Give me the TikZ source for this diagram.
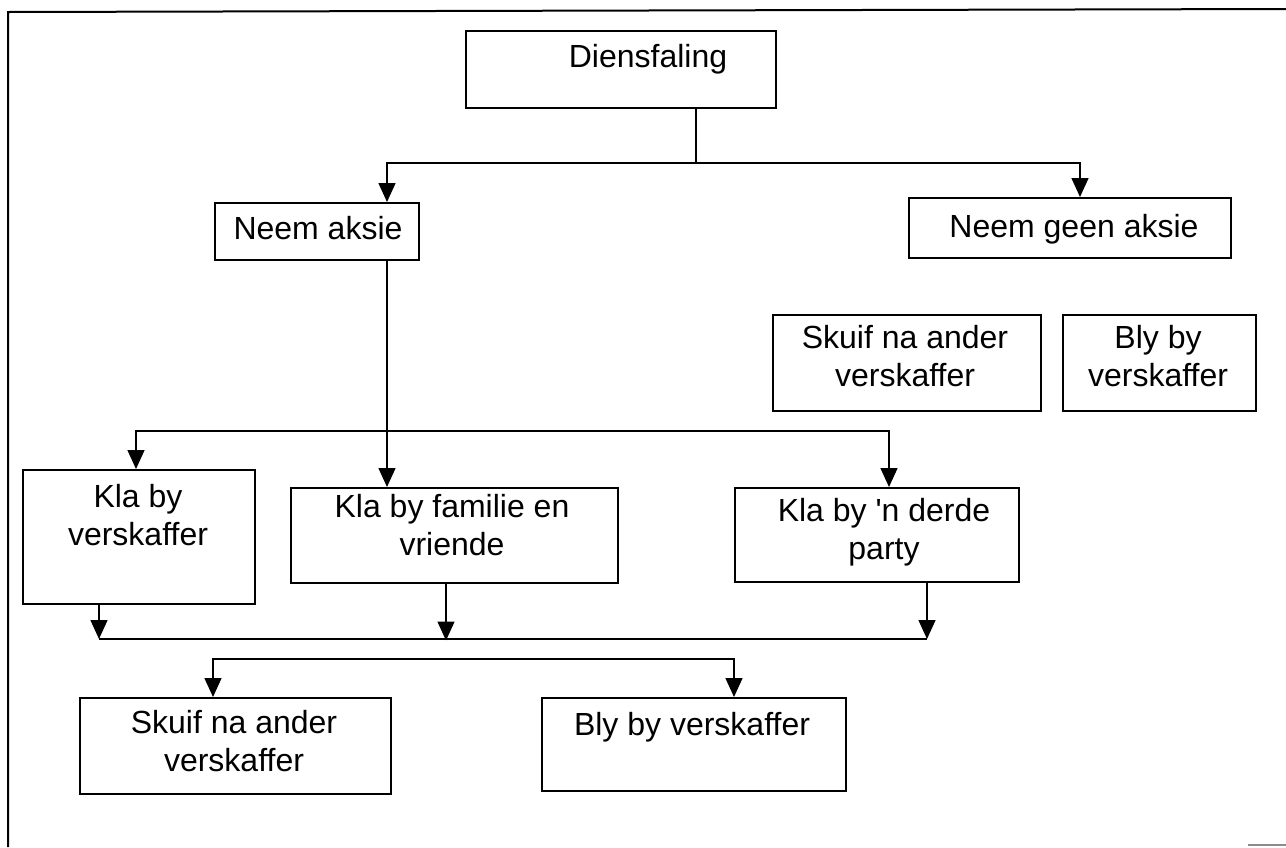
\documentclass[tikz,border=0pt]{standalone}
\usepackage{fontspec}
\setmainfont{Liberation Sans}
\usetikzlibrary{arrows.meta,calc}

\begin{document}
\begin{tikzpicture}[x=1pt,y=-1pt,
  line width=1.5pt,
  box/.style={draw, line width=1.5pt, inner sep=0pt, anchor=north west},
  lbl/.style={anchor=north, align=center, inner sep=0pt,
    font=\fontsize{32}{38}\selectfont},
  tip/.tip={Triangle[width=17pt,length=19pt]},
  arr/.style={-tip},
  link/.style={line width=1.5pt}]

\useasboundingbox (0,0) rectangle (1286,847);

% page frame (top and left edges)
\draw[line width=2pt] (8,847) -- (8,12) -- (1286,9);
\draw[line width=1.5pt, black!45] (1248,845) -- (1286,845);

% boxes
\node[box, minimum width=310pt, minimum height=77pt] (dien) at (465,30) {};
\node[box, minimum width=204pt, minimum height=57pt] (naksie) at (214,202) {};
\node[box, minimum width=322pt, minimum height=60pt] (ngeen) at (908,197) {};
\node[box, minimum width=268pt, minimum height=96pt] (rskuif) at (772,314) {};
\node[box, minimum width=193pt, minimum height=96pt] (rbly) at (1062,314) {};
\node[box, minimum width=232pt, minimum height=134pt] (kla1) at (22,469) {};
\node[box, minimum width=327pt, minimum height=95pt] (kla2) at (290,487) {};
\node[box, minimum width=284pt, minimum height=94pt] (kla3) at (734,487) {};
\node[box, minimum width=311pt, minimum height=96pt] (bskuif) at (79,697) {};
\node[box, minimum width=304pt, minimum height=93pt] (bbly) at (541,697) {};

% labels
\node[lbl] (dien-t)   at (648,44)  {Diensfaling};
\node[lbl] (naksie-t) at (318,216) {Neem aksie};
\node[lbl] (ngeen-t)  at (1074,214) {Neem geen aksie};
\node[lbl] (rskuif-t) at (905,325) {Skuif na ander\\verskaffer};
\node[lbl] (rbly-t)   at (1158,325) {Bly by\\verskaffer};
\node[lbl] (kla1-t)   at (138,484) {Kla by\\verskaffer};
\node[lbl] (kla2-t)   at (452,494) {Kla by familie en\\vriende};
\node[lbl] (kla3-t)   at (884,498) {Kla by \textquotesingle n derde\\party};
\node[lbl] (bskuif-t) at (234,710) {Skuif na ander\\verskaffer};
\node[lbl] (bbly-t)   at (692,712) {Bly by verskaffer};

% junction points of the connectors
\coordinate (j1) at (696,163);
\coordinate (j2) at (387,431);
\coordinate (j3) at (99,639);
\coordinate (j4) at (927,639);

% Diensfaling -> the two choices
\draw[link] (dien.south -| j1) -- (j1);
\draw[arr] (j1) -| ($(naksie.north west)+(173,0)$);
\draw[arr] (j1) -| ($(ngeen.north west)+(172,0)$);

% Neem aksie -> the three ways to complain
\draw[arr] (naksie.south -| j2) -- (kla2.north -| j2);
\draw[arr] (j2) -| ($(kla1.north west)+(114,0)$);
\draw[arr] (j2) -| ($(kla3.north west)+(155,0)$);

% complaints gather on one line
\draw[link] (j3) -- (j4);
\draw[arr] (kla1.south -| j3) -- (j3);
\draw[arr] ($(kla2.south west)+(156,0)$) -- ++(0,57);
\draw[arr] (kla3.south -| j4) -- (j4);

% final outcomes
\draw[tip-tip]
  ($(bskuif.north west)+(134,0)$) -- ++(0,-38) -| ($(bbly.north west)+(193,0)$);

\end{tikzpicture}
\end{document}
